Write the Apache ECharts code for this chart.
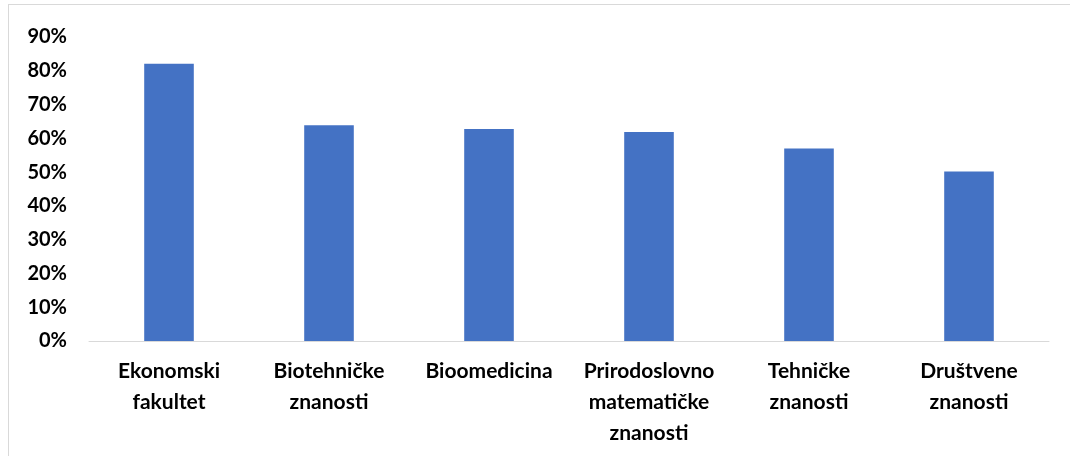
<!DOCTYPE html>
<html>
<head>
<meta charset="utf-8">
<script src="https://cdn.jsdelivr.net/npm/echarts@6/dist/echarts.min.js"></script>
<style>
  html, body { margin: 0; padding: 0; background: #fff; }
  #frame { position: absolute; left: 8px; top: 4px; width: 1070px; height: 460px; border: 1px solid #d9d9d9; box-sizing: border-box; }
  #chart { position: absolute; left: 0; top: 0; width: 1070px; height: 456px; }
</style>
</head>
<body>
<div id="frame"></div>
<div id="chart"></div>
<script>
  // kategorije i vrijednosti (udio u %)
  var categories = ['Ekonomski\nfakultet', 'Biotehničke\nznanosti', 'Bioomedicina', 'Prirodoslovno\nmatematičke\nznanosti', 'Tehničke\nznanosti', 'Društvene\nznanosti'];
  var values = [82.1, 63.9, 62.8, 61.9, 57.0, 50.2];
  var yTicks = [0, 10, 20, 30, 40, 50, 60, 70, 80, 90];

  var myChart = echarts.init(document.getElementById('chart'));
  myChart.setOption({
    animation: false,
    grid: {
      left: 89,
      right: 21,
      top: 37,
      bottom: 115
    },
    xAxis: {
      type: 'category',
      data: categories,
      axisTick: { show: false },
      axisLine: { lineStyle: { color: '#d9d9d9', width: 1 } },
      axisLabel: {
        interval: 0,
        margin: 15,
        color: '#000',
        fontFamily: 'Lato',
        fontWeight: 'bold',
        fontSize: 21,
        lineHeight: 31
      }
    },
    yAxis: {
      type: 'value',
      min: yTicks[0],
      max: yTicks[yTicks.length - 1],
      interval: 10,
      splitLine: { show: false },
      axisLine: { show: false },
      axisTick: { show: false },
      axisLabel: {
        margin: 22,
        color: '#000',
        fontFamily: 'Lato',
        fontWeight: 'bold',
        fontSize: 20,
        formatter: function (v) { return v + '%'; }
      }
    },
    series: [{
      type: 'bar',
      data: values,
      barWidth: '31%',
      itemStyle: { color: '#4472C4' }
    }]
  });
</script>
</body>
</html>
